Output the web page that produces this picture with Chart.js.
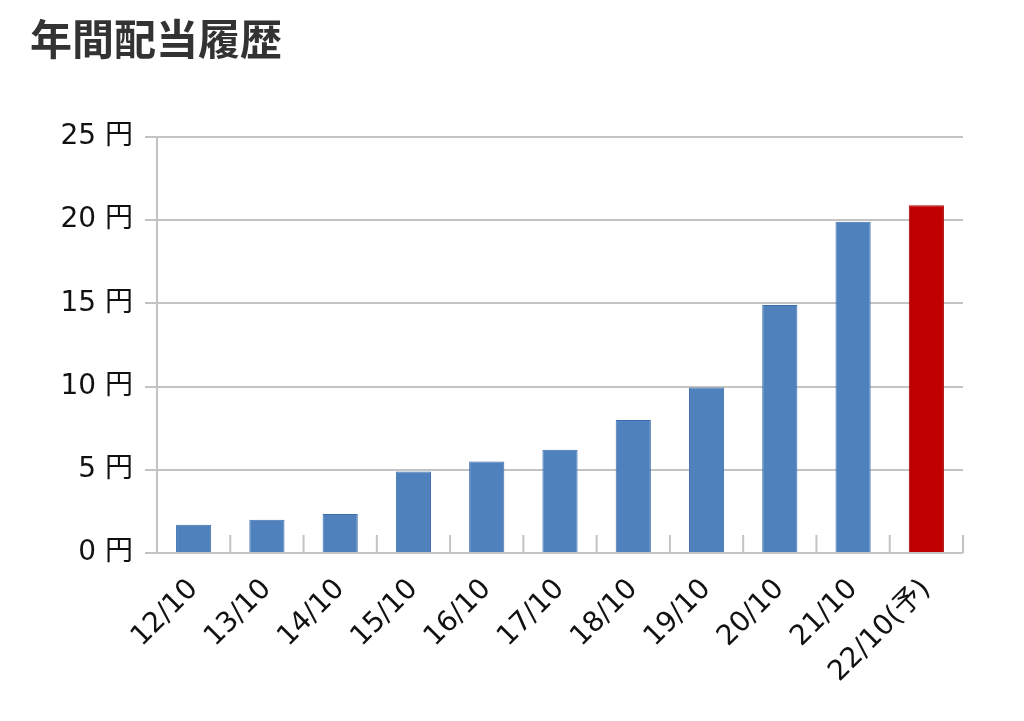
<!DOCTYPE html>
<html>
<head>
<meta charset="utf-8">
<script src="https://cdn.jsdelivr.net/npm/chart.js@4"></script>
<style>
html,body{margin:0;padding:0;background:#fff;}
#wrap{width:1024px;height:721px;}
</style>
</head>
<body>
<div id="wrap"><canvas id="c" width="1024" height="721"></canvas></div>
<script>
const categories = ['12/10','13/10','14/10','15/10','16/10','17/10','18/10','19/10','20/10','21/10','22/10(予)'];
const dividends = [1.7, 2.0, 2.35, 4.9, 5.5, 6.2, 8.0, 9.95, 14.9, 19.9, 20.9];
const yTicks = [0, 5, 10, 15, 20, 25];
const titleText = '年間配当履歴';
const unit = '円';

const BLUE = '#4F81BD', BLUE_B = '#3C6EAE', RED = '#C00000', RED_B = '#B00000';
const GRID = '#C3C3C3';
const TITLE_FONT = "'Noto Sans CJK JP', 'Noto Sans', sans-serif";
const TICK_FONT = "'DejaVu Sans', 'Noto Sans CJK JP', sans-serif";

const catTicks = {
  id: 'catTicks',
  afterDatasetsDraw(chart) {
    const x = chart.scales.x, y = chart.scales.y, ctx = chart.ctx;
    const y0 = y.getPixelForValue(0);
    ctx.save();
    ctx.strokeStyle = GRID;
    ctx.lineWidth = 2;
    const n = categories.length;
    for (let i = 1; i <= n; i++) {
      const px = (x.getPixelForValue(i - 1) + x.getPixelForValue(i)) / 2;
      ctx.beginPath();
      ctx.moveTo(px, y0);
      ctx.lineTo(px, y0 - 18);
      ctx.stroke();
    }
    ctx.restore();
  }
};

new Chart(document.getElementById('c'), {
  type: 'bar',
  data: {
    labels: categories,
    datasets: [{
      data: dividends,
      backgroundColor: categories.map(c => c.includes('予') ? RED : BLUE),
      borderColor: categories.map(c => c.includes('予') ? RED_B : BLUE_B),
      borderWidth: 1,
      barPercentage: 0.48,
      categoryPercentage: 1.0
    }]
  },
  options: {
    responsive: false,
    animation: false,
    devicePixelRatio: 1,
    layout: { padding: { left: 30, right: 61, top: 0, bottom: 0 } },
    plugins: {
      legend: { display: false },
      tooltip: { enabled: false },
      title: {
        display: true,
        text: titleText,
        align: 'start',
        color: '#333',
        font: { family: TITLE_FONT, size: 42, weight: 'bold', lineHeight: 1.2 },
        padding: { top: 14, bottom: 72.6 }
      }
    },
    scales: {
      x: {
        grid: { display: false },
        border: { display: false },
        ticks: {
          color: '#111',
          font: { family: TICK_FONT, size: 28 },
          minRotation: 45,
          maxRotation: 45,
          padding: 12
        },
        afterFit(s) { s.height = 168; }
      },
      y: {
        min: 0,
        max: 25,
        afterBuildTicks(s) { s.ticks = yTicks.map(v => ({ value: v })); },
        grid: { color: GRID, lineWidth: 2, tickLength: 12, drawTicks: true },
        border: { display: true, color: GRID, width: 2 },
        ticks: {
          color: '#111',
          font: { family: TICK_FONT, size: 28 },
          padding: 12,
          callback: v => v + ' ' + unit
        },
        afterFit(s) { s.width = 127; }
      }
    }
  },
  plugins: [catTicks]
});
</script>
</body>
</html>
